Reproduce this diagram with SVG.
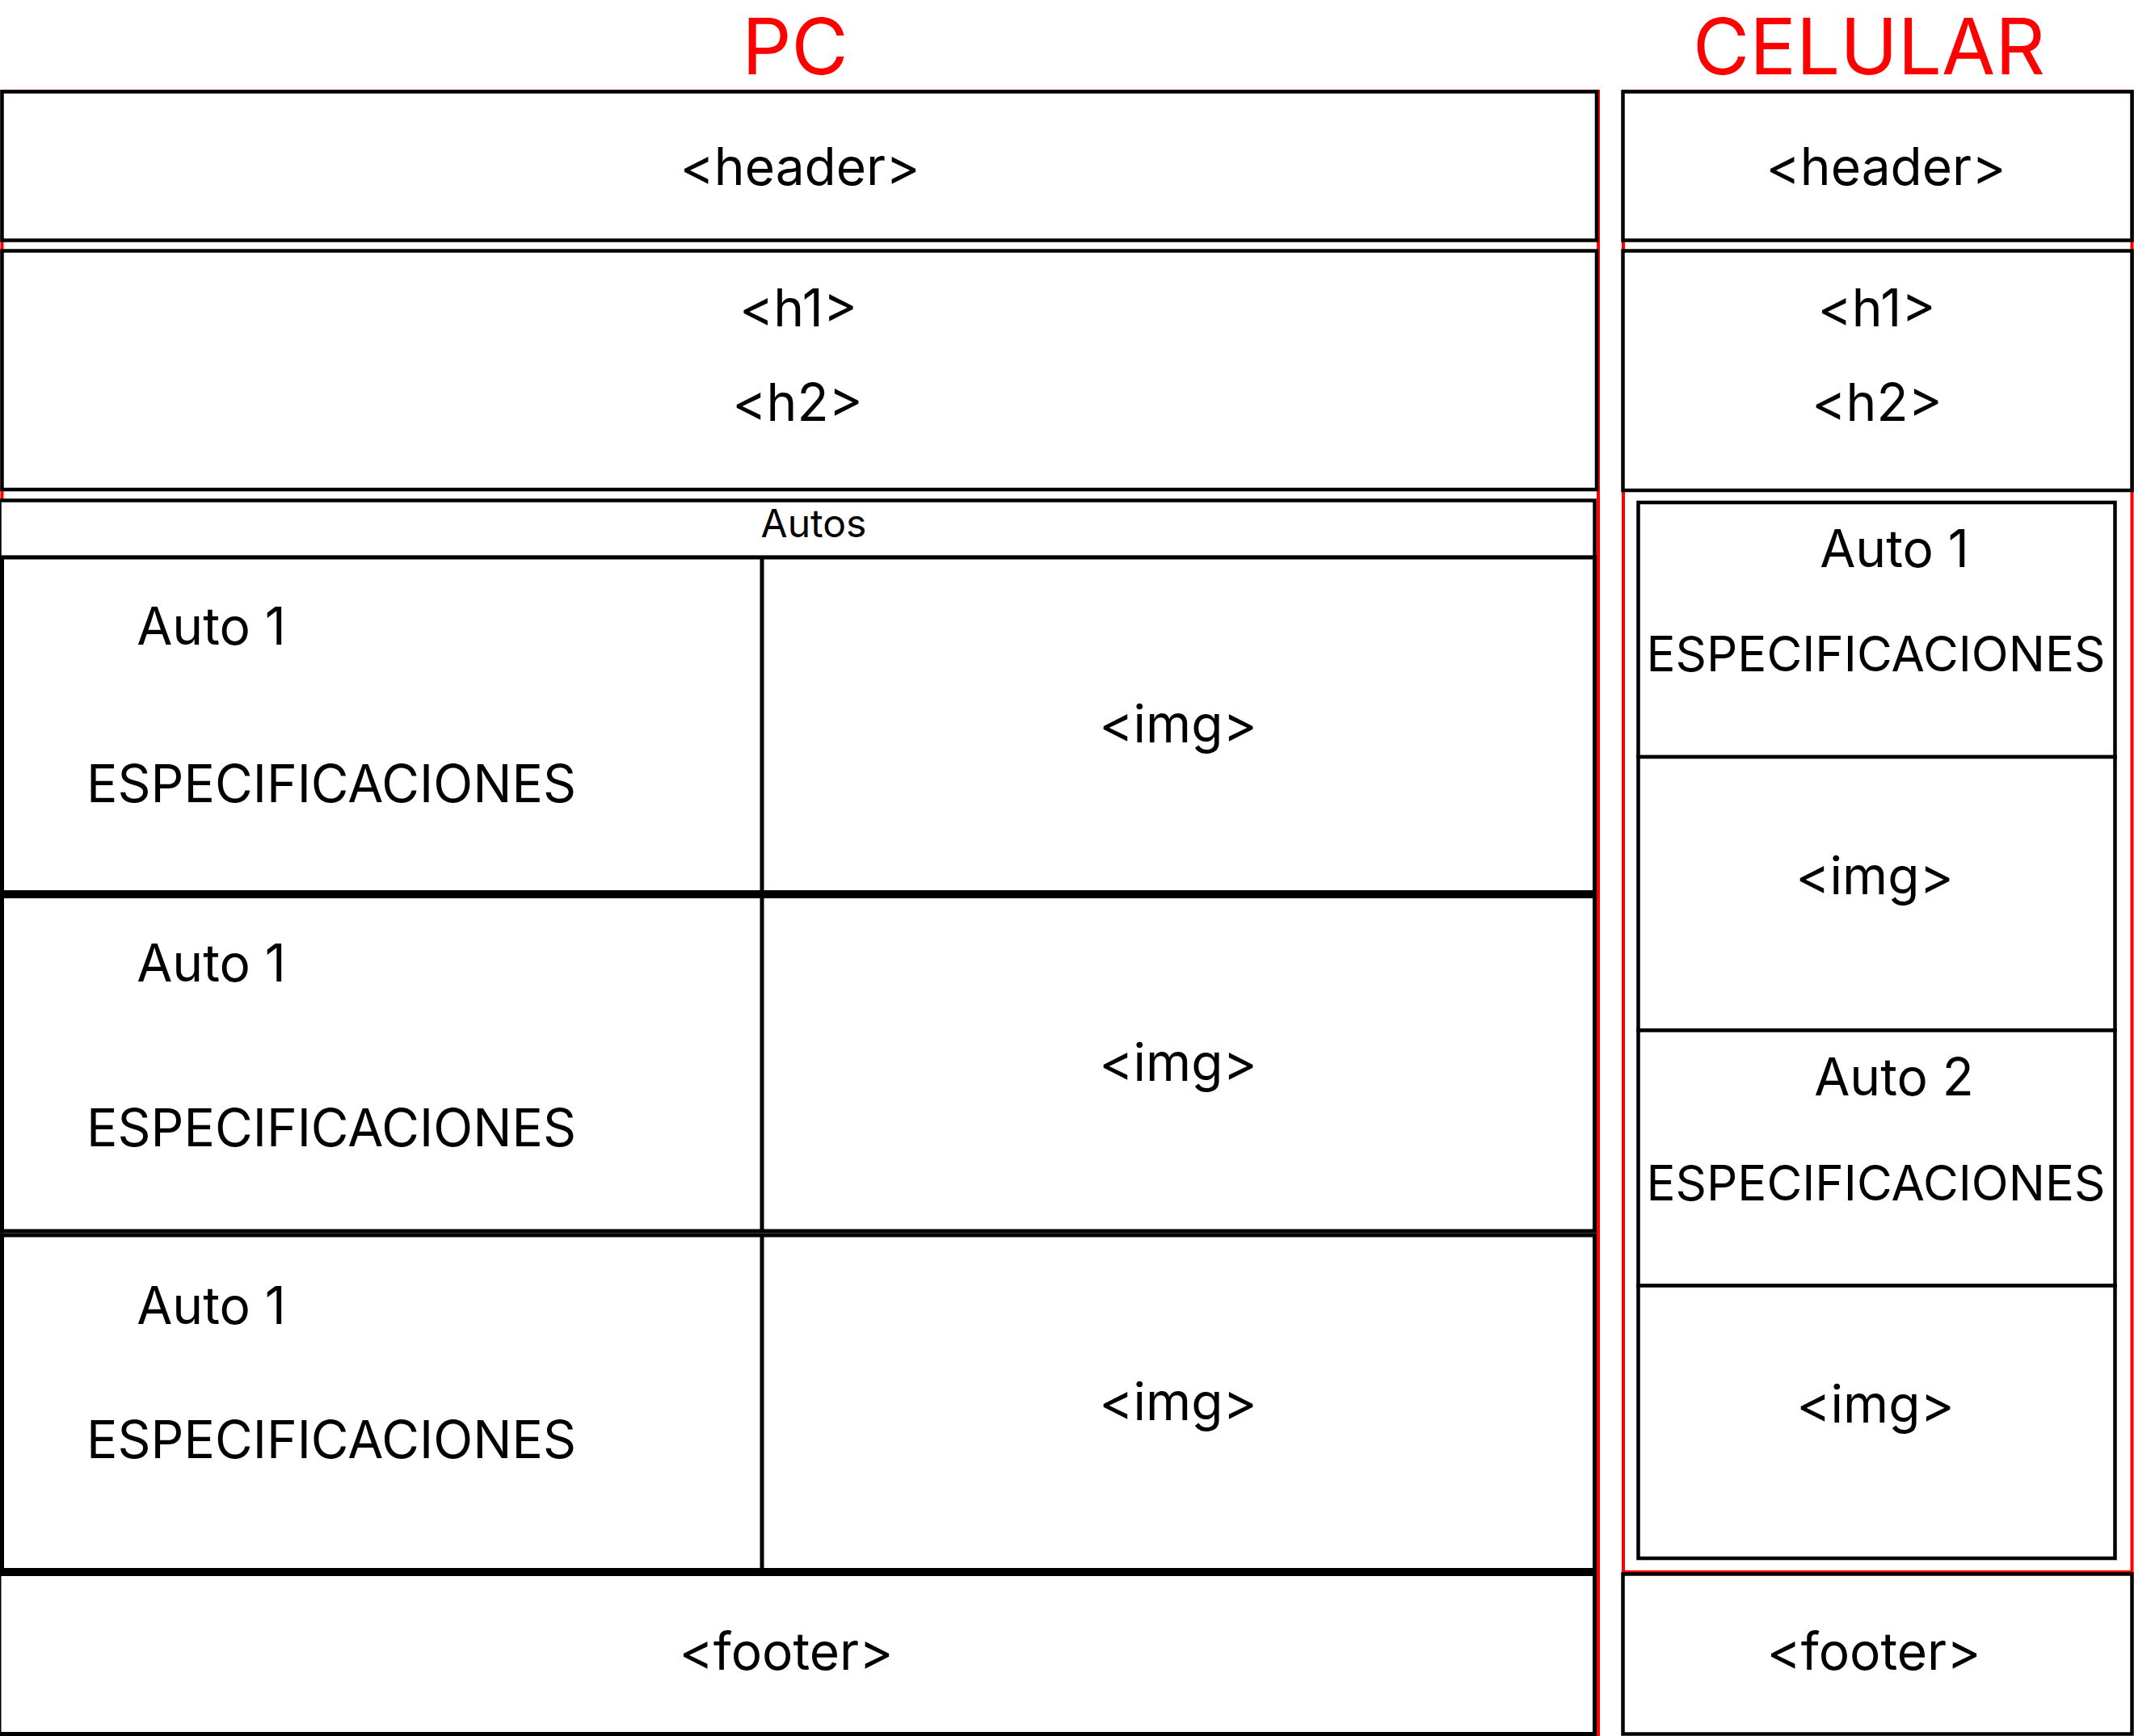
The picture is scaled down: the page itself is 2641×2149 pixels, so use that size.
<svg xmlns="http://www.w3.org/2000/svg" width="2641" height="2149" viewBox="0 0 2641 2149">
<style>
  text { font-family: Inter, "Liberation Sans", sans-serif; fill: #000; text-anchor: middle; }
  .t64 { font-size: 64px; }
  .t60 { font-size: 60px; }
  .t48 { font-size: 48px; }
  .title { font-size: 96px; fill: #FF0000; }
  .box { fill: #fff; stroke: #000; stroke-width: 4.5; }
  .row { fill: #fff; stroke: #000; stroke-width: 5; }
  .frame { fill: none; stroke: #FF0000; stroke-width: 4; }
  .div { stroke: #000; stroke-width: 5; }
</style>
<rect x="0" y="0" width="2641" height="2149" fill="#fff"/>

<g id="frames">
  <rect class="frame" x="2.5" y="113" width="1975.5" height="2045"/>
  <rect class="frame" x="2009" y="113" width="629.5" height="1833"/>
</g>

<g id="title-pc"><text class="title" x="984" y="92">PC</text></g>
<g id="title-celular"><text class="title" x="2313" y="92">CELULAR</text></g>

<!-- PC column -->
<g id="pc-header">
  <rect class="box" x="2.5" y="113.5" width="1973.5" height="184"/>
  <text class="t64" x="990" y="229">&lt;header&gt;</text>
</g>
<g id="pc-titles">
  <rect class="box" x="2.5" y="310.5" width="1973.5" height="295.5"/>
  <text class="t64" x="988" y="404">&lt;h1&gt;</text>
  <text class="t64" x="987" y="521">&lt;h2&gt;</text>
</g>
<g id="pc-autos">
  <rect class="box" x="-0.5" y="619.5" width="1974" height="70.5"/>
  <text class="t48" x="1007" y="665">Autos</text>
</g>
<g id="pc-row1">
  <rect class="row" x="2.5" y="690" width="1971" height="414.5"/>
  <line class="div" x1="943" y1="690" x2="943" y2="1104.5"/>
  <text class="t64" x="261.5" y="798">Auto 1</text>
  <text class="t64" x="410" y="993">ESPECIFICACIONES</text>
  <text class="t64" x="1458" y="919">&lt;img&gt;</text>
</g>
<g id="pc-row2">
  <rect class="row" x="2.5" y="1109.5" width="1971" height="414.5"/>
  <line class="div" x1="943" y1="1109.5" x2="943" y2="1524"/>
  <text class="t64" x="261.5" y="1215">Auto 1</text>
  <text class="t64" x="410" y="1419">ESPECIFICACIONES</text>
  <text class="t64" x="1458" y="1338">&lt;img&gt;</text>
</g>
<g id="pc-row3">
  <rect class="row" x="2.5" y="1529" width="1971" height="414.5"/>
  <line class="div" x1="943" y1="1529" x2="943" y2="1943.5"/>
  <text class="t64" x="261.5" y="1639">Auto 1</text>
  <text class="t64" x="410" y="1805">ESPECIFICACIONES</text>
  <text class="t64" x="1458" y="1758">&lt;img&gt;</text>
</g>
<g id="pc-footer">
  <rect class="row" x="-1" y="1948.5" width="1974.5" height="198"/>
  <text class="t64" x="973" y="2067">&lt;footer&gt;</text>
</g>

<!-- Celular column -->
<g id="cel-header">
  <rect class="box" x="2008.5" y="113.5" width="630" height="184"/>
  <text class="t64" x="2334" y="229">&lt;header&gt;</text>
</g>
<g id="cel-titles">
  <rect class="box" x="2008.5" y="310.5" width="630" height="296.5"/>
  <text class="t64" x="2322.5" y="404">&lt;h1&gt;</text>
  <text class="t64" x="2323" y="521">&lt;h2&gt;</text>
</g>
<g id="cel-auto1">
  <rect class="box" x="2027.5" y="622" width="590" height="315"/>
  <text class="t64" x="2344.5" y="702">Auto 1</text>
  <text class="t60" x="2321.5" y="831">ESPECIFICACIONES</text>
</g>
<g id="cel-img1">
  <rect class="box" x="2027.5" y="937" width="590" height="338.5"/>
  <text class="t64" x="2320" y="1107">&lt;img&gt;</text>
</g>
<g id="cel-auto2">
  <rect class="box" x="2027.5" y="1275.5" width="590" height="316"/>
  <text class="t64" x="2344" y="1356">Auto 2</text>
  <text class="t60" x="2321.5" y="1486">ESPECIFICACIONES</text>
</g>
<g id="cel-img2">
  <rect class="box" x="2027.5" y="1591.5" width="590" height="337.5"/>
  <text class="t64" x="2321" y="1761">&lt;img&gt;</text>
</g>
<g id="cel-footer">
  <rect class="box" x="2008.5" y="1948.5" width="630" height="198"/>
  <text class="t64" x="2319" y="2067">&lt;footer&gt;</text>
</g>
</svg>
